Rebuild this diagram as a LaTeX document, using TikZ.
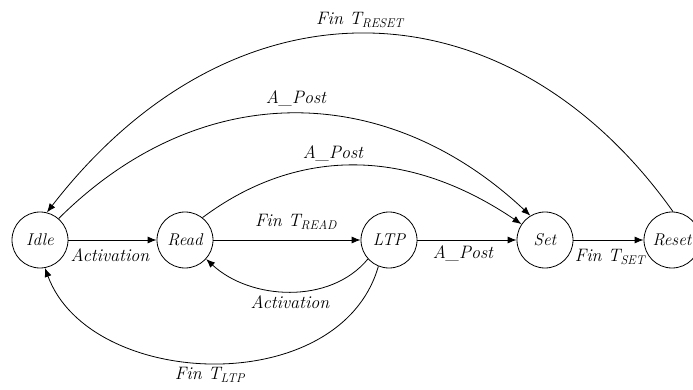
\documentclass[tikz,border=0pt]{standalone}
\usetikzlibrary{arrows.meta}
\begin{document}
\begin{tikzpicture}[x=1pt,y=-1pt,
  state/.style={draw,circle,minimum size=56pt,inner sep=0pt,line width=0.8pt,font=\fontsize{17}{20}\selectfont\itshape},
  lbl/.style={inner sep=0pt,font=\fontsize{18}{21}\selectfont\itshape},
  arr/.style={line width=0.8pt,-{Latex[length=9pt,width=7pt]}}]
\useasboundingbox (0,0) rectangle (693,390);
\node[state] (idle) at (40,240) {Idle};
\node[state] (read) at (185,240) {Read};
\node[state] (ltp) at (389,240) {LTP};
\node[state] (set) at (545,240) {Set};
\node[state] (reset) at (672,240) {Reset};

\draw[arr] (idle.east) -- (read.west);
\draw[arr] (read.east) -- (ltp.west);
\draw[arr] (ltp.east) -- (set.west);
\draw[arr] (set.east) -- (reset.west);

\draw[arr] (reset.88) .. controls (510,-18) and (237,-33) .. (idle.76);
\draw[arr] (idle.49) .. controls (202,76) and (388,82) .. (set.121);
\draw[arr] (read.52) .. controls (293,150) and (403,144) .. (set.146);
\draw[arr] (ltp.-138) .. controls (330,305) and (250,300) .. (read.-42);
\draw[arr] (ltp.-112) .. controls (340,400) and (90,390) .. (idle.-80);

\node[lbl] (l1) at (110,255) {Activation};
\node[lbl] (l2) at (296,222) {Fin T\textsubscript{READ}};
\node[lbl] (l3) at (463,253) {A\_Post};
\node[lbl] (l4) at (610,257) {Fin T\textsubscript{SET}};
\node[lbl] (l5) at (290,302) {Activation};
\node[lbl] (l6) at (210,375) {Fin T\textsubscript{LTP}};
\node[lbl] (l7) at (296,98) {A\_Post};
\node[lbl] (l8) at (333,153) {A\_Post};
\node[lbl] (l9) at (360,20) {Fin T\textsubscript{RESET}};
\end{tikzpicture}
\end{document}
